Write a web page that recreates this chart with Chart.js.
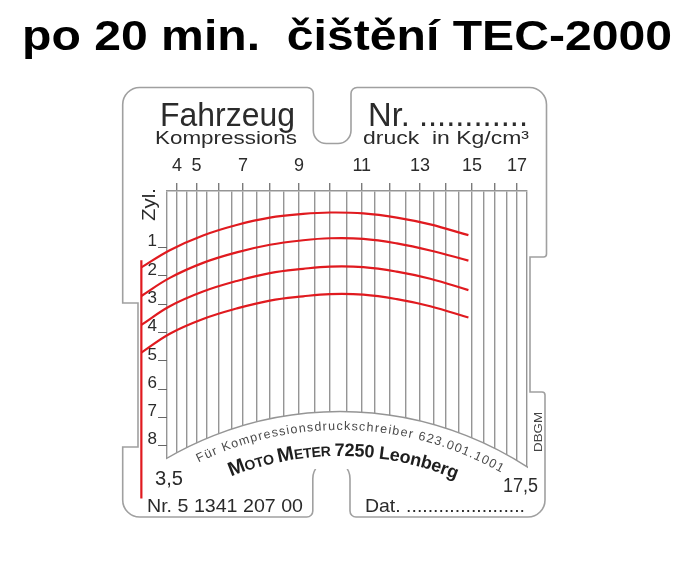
<!DOCTYPE html>
<html>
<head>
<meta charset="utf-8">
<title>Kompressionsdruck</title>
<script src="https://cdn.jsdelivr.net/npm/chart.js@4.4.1/dist/chart.umd.min.js"></script>
<style>
  body { margin: 0; background: #fff; }
  canvas { display: block; }
</style>
</head>
<body>
<canvas id="card" width="698" height="564"></canvas>
<script>
const pressureLabels = [4, 5, 7, 9, 11, 13, 15, 17];
const cylinders = [1, 2, 3, 4, 5, 6, 7, 8];
const tracePressure = [2.22, 3.64, 5.33, 6.72, 8.0, 9.13, 10.0, 11.06, 12.21, 13.38, 14.87];
const trace1 = [1.70, 1.09, 0.57, 0.20, -0.06, -0.19, -0.24, -0.21, -0.06, 0.18, 0.56];
const trace2 = [2.71, 2.07, 1.54, 1.17, 0.90, 0.74, 0.67, 0.69, 0.85, 1.10, 1.46];
const trace3 = [3.73, 3.07, 2.55, 2.18, 1.90, 1.75, 1.67, 1.69, 1.85, 2.10, 2.50];
const trace4 = [4.71, 4.04, 3.52, 3.15, 2.87, 2.72, 2.64, 2.66, 2.82, 3.07, 3.47];
const markerPressure = 2.22;
const markerSpan = [1.45, 9.86];

// the pressure scale of the card is not linear: offsets of the 0.5 grid lines, 3.5 .. 17.5
const gridOffsets = [0, 10, 19.4, 29.4, 39.4, 51.7, 64.4, 76, 89.4, 102.7, 117, 131.7, 147.7,
  162.7, 179.4, 194.4, 207.7, 222.7, 238.7, 252.7, 266, 278.7, 291, 304.4, 316, 327, 338.7, 349.4, 359.4];

function pressFrac(v) {
  const n = gridOffsets.length - 1;
  const t = (v - 3.5) / 0.5;
  let i = Math.min(Math.max(Math.floor(t), 0), n - 1);
  const o = gridOffsets[i] + (t - i) * (gridOffsets[i + 1] - gridOffsets[i]);
  return o / gridOffsets[n];
}
function fracPress(f) {
  const n = gridOffsets.length - 1;
  const o = f * gridOffsets[n];
  let i = 0;
  while (i < n - 1 && o > gridOffsets[i + 1]) i++;
  return 3.5 + 0.5 * (i + (o - gridOffsets[i]) / (gridOffsets[i + 1] - gridOffsets[i]));
}

class PressureScale extends Chart.LinearScale {
  getPixelForValue(value) {
    if (value === null || value === undefined || isNaN(value)) return NaN;
    return this.left + this.width * pressFrac(+value);
  }
  getValueForPixel(pixel) {
    return fracPress((pixel - this.left) / this.width);
  }
}
PressureScale.id = 'pressure';
PressureScale.defaults = Chart.LinearScale.defaults;
Chart.register(PressureScale);

const FONT = '"Liberation Sans", Arial, sans-serif';
const INK = '#2b2b2b';
const LINE = '#959595';

function fitText(ctx, text, x, y, w, font, color, rot) {
  ctx.save();
  ctx.font = font;
  ctx.fillStyle = color;
  ctx.textAlign = 'left';
  ctx.textBaseline = 'alphabetic';
  const m = ctx.measureText(text).width;
  ctx.translate(x, y);
  if (rot) ctx.rotate(rot);
  ctx.scale(w / m, 1);
  ctx.fillText(text, 0, 0);
  ctx.restore();
}

// text along a circle, angles in degrees from straight up
function arcText(ctx, parts, cx, cy, r, a0, a1, color) {
  const chars = [];
  parts.forEach(p => {
    ctx.font = p.font;
    for (const ch of p.text) chars.push({ ch, font: p.font, w: ctx.measureText(ch).width });
  });
  const total = chars.reduce((s, c) => s + c.w, 0);
  const len = r * (a1 - a0) * Math.PI / 180;
  const gap = (len - total) / (chars.length - 1);
  let s = 0;
  ctx.save();
  ctx.fillStyle = color;
  ctx.textAlign = 'left';
  ctx.textBaseline = 'alphabetic';
  chars.forEach(c => {
    const a = a0 * Math.PI / 180 + s / r;
    ctx.save();
    ctx.translate(cx + r * Math.sin(a), cy - r * Math.cos(a));
    ctx.rotate(a);
    ctx.font = c.font;
    ctx.fillText(c.ch, 0, 0);
    ctx.restore();
    s += c.w + gap;
  });
  ctx.restore();
}

const ARC = { cx: 340, cy: 755, r: 343.5 };

const cardPlugin = {
  id: 'card',
  beforeDraw(chart) {
    const ctx = chart.ctx;
    ctx.save();
    ctx.fillStyle = '#fff';
    ctx.fillRect(0, 0, chart.width, chart.height);

    // outline of the card with its notches
    const L = 122.7, R = 546.5, T = 87.5, B = 517, R2 = 545;
    ctx.beginPath();
    ctx.moveTo(L + 17, T);
    ctx.lineTo(307, T);
    ctx.arcTo(313.3, T, 313.3, T + 6, 6);
    ctx.lineTo(313.3, 130);
    ctx.arcTo(313.3, 143.5, 327, 143.5, 13);
    ctx.lineTo(338, 143.5);
    ctx.arcTo(351, 143.5, 351, 130, 13);
    ctx.lineTo(351, T + 6);
    ctx.arcTo(351, T, 357, T, 6);
    ctx.lineTo(R - 17, T);
    ctx.arcTo(R, T, R, T + 17, 17);
    ctx.lineTo(R, 254);
    ctx.arcTo(R, 257, R - 3, 257, 3);
    ctx.lineTo(530, 257);
    ctx.lineTo(530, 392);
    ctx.lineTo(R2 - 3, 392);
    ctx.arcTo(R2, 392, R2, 395, 3);
    ctx.lineTo(R2, B - 17);
    ctx.arcTo(R2, B, R2 - 17, B, 17);
    ctx.lineTo(356, B);
    ctx.arcTo(350, B, 350, B - 6, 6);
    ctx.lineTo(350, 478.7);
    ctx.arc(331.4, 478.7, 18.6, 0, Math.PI, true);
    ctx.lineTo(312.8, B - 6);
    ctx.arcTo(312.8, B, 306.8, B, 6);
    ctx.lineTo(L + 17, B);
    ctx.arcTo(L, B, L, B - 17, 17);
    ctx.lineTo(L, 447);
    ctx.lineTo(138, 447);
    ctx.lineTo(138, 303);
    ctx.lineTo(L, 303);
    ctx.lineTo(L, T + 17);
    ctx.arcTo(L, T, L + 17, T, 17);
    ctx.closePath();
    ctx.strokeStyle = '#a0a0a0';
    ctx.lineWidth = 1.6;
    ctx.stroke();
    ctx.restore();

    fitText(ctx, 'po 20 min.  čištění TEC-2000', 22, 50, 650, 'bold 43px ' + FONT, '#000');
    fitText(ctx, 'Fahrzeug', 160, 126, 135, '34px ' + FONT, INK);
    fitText(ctx, 'Nr. ............', 368, 126, 160, '34px ' + FONT, INK);
    fitText(ctx, 'Kompressions', 155, 143.5, 142, '19px ' + FONT, INK);
    fitText(ctx, 'druck  in Kg/cm³', 363, 143.5, 166, '19px ' + FONT, INK);
    fitText(ctx, '3,5', 155, 485, 28, '20px ' + FONT, INK);
    fitText(ctx, '17,5', 503, 492, 35, '20px ' + FONT, INK);
    fitText(ctx, 'Nr. 5 1341 207 00', 147, 512, 156, '19px ' + FONT, INK);
    fitText(ctx, 'Dat. ......................', 365, 512, 160, '19px ' + FONT, INK);
    fitText(ctx, 'Zyl.', 155, 221, 33, '18px ' + FONT, INK, -Math.PI / 2);
    fitText(ctx, 'DBGM', 542, 452, 40, '11px ' + FONT, '#444', -Math.PI / 2);
  },
  beforeDatasetsDraw(chart) {
    const ctx = chart.ctx, a = chart.chartArea;
    ctx.save();
    ctx.beginPath();
    ctx.rect(a.left - 1, a.top, a.right - a.left + 2, a.bottom - a.top + 2);
    ctx.clip();
    ctx.beginPath();
    ctx.arc(ARC.cx, ARC.cy, ARC.r, 0, Math.PI * 2);
    ctx.fillStyle = '#fff';
    ctx.fill();
    ctx.beginPath();
    ctx.arc(ARC.cx, ARC.cy, ARC.r, Math.PI, 0);
    ctx.strokeStyle = LINE;
    ctx.lineWidth = 1.5;
    ctx.stroke();
    ctx.restore();

    arcText(ctx, [{ text: 'Für Kompressionsdruckschreiber 623.001.1001', font: '12.5px ' + FONT }],
      ARC.cx, ARC.cy, 325, -25.8, 29.7, '#4a4a4a');
    const big = 'bold 20px ' + FONT, small = 'bold 14px ' + FONT, mid = 'bold 18px ' + FONT;
    arcText(ctx, [
      { text: 'M', font: big }, { text: 'OTO ', font: small },
      { text: 'M', font: big }, { text: 'ETER ', font: small },
      { text: '7250 Leonberg', font: mid }
    ], ARC.cx, ARC.cy, 299, -21.4, 22.8, '#1e1e1e');
  }
};

const red = '#e01a1f';
function trace(ys) {
  return {
    data: tracePressure.map((x, i) => ({ x, y: ys[i] })),
    borderColor: red, borderWidth: 2.2, pointRadius: 0, tension: 0.4, clip: false, fill: false
  };
}

new Chart(document.getElementById('card'), {
  type: 'line',
  data: {
    datasets: [
      trace(trace1), trace(trace2), trace(trace3), trace(trace4),
      {
        data: markerSpan.map(y => ({ x: markerPressure, y })),
        borderColor: red, borderWidth: 2.2, pointRadius: 0, clip: false, fill: false
      }
    ]
  },
  options: {
    responsive: false,
    animation: false,
    events: [],
    layout: { padding: { left: 0, right: 171, top: 0, bottom: 97 } },
    plugins: { legend: { display: false }, tooltip: { enabled: false } },
    scales: {
      x: {
        type: 'pressure',
        position: 'top',
        min: 3.5,
        max: 17.5,
        afterFit: s => { s.height = 191; },
        afterBuildTicks: s => {
          s.ticks = gridOffsets.map((o, i) => ({ value: 3.5 + i * 0.5 }));
        },
        grid: {
          color: LINE,
          lineWidth: 1.4,
          tickLength: 8,
          tickColor: c => (Number.isInteger(c.tick.value) && c.tick.value >= 4 && c.tick.value <= 17) ? '#7a7a7a' : 'rgba(0,0,0,0)'
        },
        border: { display: true, color: LINE, width: 1.5 },
        ticks: {
          autoSkip: false,
          maxRotation: 0,
          padding: 6,
          color: INK,
          font: { family: FONT, size: 18 },
          callback: v => pressureLabels.includes(v) ? String(v) : ''
        }
      },
      y: {
        type: 'linear',
        position: 'left',
        reverse: true,
        min: -1,
        max: 8.75,
        afterFit: s => { s.width = 167; },
        afterBuildTicks: s => { s.ticks = cylinders.map(v => ({ value: v })); },
        grid: { drawOnChartArea: false, tickLength: 9, tickColor: '#666', lineWidth: 1 },
        border: { display: false },
        ticks: {
          autoSkip: false,
          padding: 1,
          labelOffset: -6,
          color: INK,
          font: { family: FONT, size: 17 },
          callback: v => String(v)
        }
      }
    }
  },
  plugins: [cardPlugin]
});
</script>
</body>
</html>
